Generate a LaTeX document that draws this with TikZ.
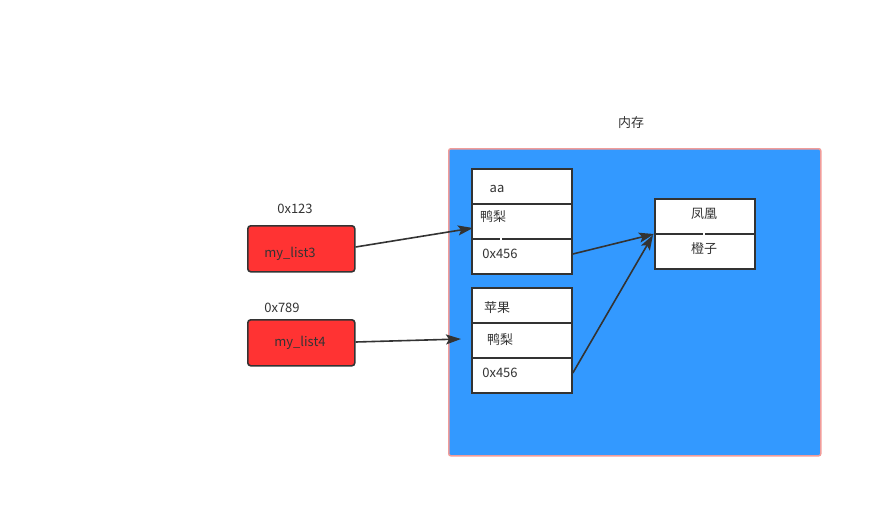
\documentclass[tikz,border=0pt]{standalone}
\usepackage{fontspec}
\setmainfont{Noto Sans CJK SC}
\usetikzlibrary{arrows.meta}
\definecolor{ink}{HTML}{333333}
\definecolor{memblue}{HTML}{3399FF}
\definecolor{memedge}{HTML}{F19C99}
\definecolor{varred}{HTML}{FF3333}
\tikzset{
  cell/.style={draw=ink, line width=1.8pt, fill=white, minimum width=100pt, minimum height=35pt, inner sep=0pt, anchor=north west},
  varbox/.style={draw=ink, line width=1.6pt, fill=varred, rounded corners=3pt, minimum width=107pt, minimum height=46pt, inner sep=0pt, anchor=north west},
  txt/.style={text=ink, font=\fontsize{13}{15}\selectfont, inner sep=0pt},
  link/.style={draw=ink, line width=1.6pt, -{Stealth[length=15pt,width=10pt,inset=3pt]}},
  gap/.style={draw=white, line width=1.5pt}
}
\begin{document}
\begin{tikzpicture}[x=1pt,y=-1pt]
\useasboundingbox (0,0) rectangle (882,517);
% memory region
\node[draw=memedge, line width=1.5pt, fill=memblue, rounded corners=2pt, minimum width=372pt, minimum height=307pt, inner sep=0pt, anchor=north west] (mem) at (448,148) {};
\node[txt] (memlabel) at (631,123) {内存};
% list 3 cells
\node[cell] (a1) at (471,168) {};
\node[cell] (a2) at (471,203) {};
\node[cell] (a3) at (471,238) {};
\node[txt] (a1t) at (497,189) {aa};
\node[txt] (a2t) at (493,217) {鸭梨};
\node[txt] (a3t) at (500,254) {0x456};
\draw[gap] (501,236.5) -- (501,239.5);
% list 4 cells
\node[cell] (b1) at (471,287) {};
\node[cell] (b2) at (471,322) {};
\node[cell] (b3) at (471,357) {};
\node[txt] (b1t) at (497,308) {苹果};
\node[txt] (b2t) at (500,340) {鸭梨};
\node[txt] (b3t) at (500,373) {0x456};
% inner list
\node[cell] (c1) at (654,198) {};
\node[cell] (c2) at (654,233) {};
\node[txt] (c1t) at (704,214) {凤凰};
\node[txt] (c2t) at (704,249) {橙子};
\draw[gap] (704,231.5) -- (704,234.5);
% variables
\node[varbox] (v3) at (247,225) {};
\node[varbox] (v4) at (247,319) {};
\node[txt] (v3t) at (290,254) {my\_list3};
\node[txt] (v4t) at (300,343) {my\_list4};
\node[txt] (v3a) at (295,209) {0x123};
\node[txt] (v4a) at (282,308) {0x789};
% arrows
\coordinate (p1) at (473,228);
\coordinate (p2) at (461,339);
\coordinate (p3) at (654,234);
\coordinate (p4) at (653,235);
\draw[link] (v3.east |- 0,247) -- (p1);
\draw[link] (v4.east |- 0,342) -- (p2);
\draw[link] (a3.east |- 0,254) -- (p3);
\draw[link] (b3.east |- 0,373) -- (p4);
\end{tikzpicture}
\end{document}
